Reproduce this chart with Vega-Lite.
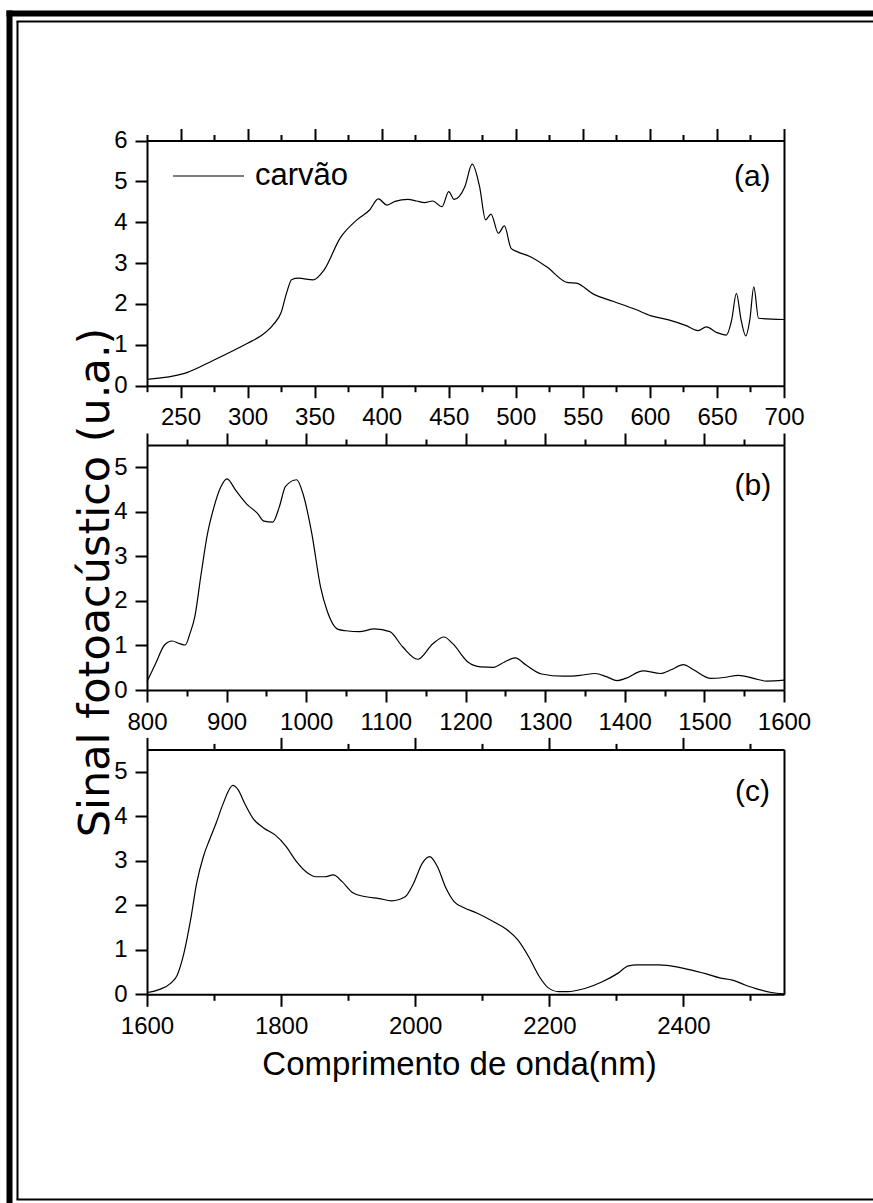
{
  "$schema": "https://vega.github.io/schema/vega-lite/v6.json",
  "width": 873,
  "height": 1203,
  "autosize": {"type": "none"},
  "padding": 0,
  "background": "white",
  "config": {
    "view": {"stroke": null},
    "axis": {
      "domainColor": "black", "tickColor": "black", "labelColor": "black", "titleColor": "black",
      "labelFont": "Liberation Sans", "titleFont": "Liberation Sans", "labelFontSize": 24,
      "titleFontWeight": "normal", "domainWidth": 2, "tickWidth": 2, "grid": false,
      "labelPadding": 8, "labelOverlap": false, "labelBound": false, "labelFlush": false
    },
    "legend": {"labelColor": "black", "labelFont": "Liberation Sans"}
  },
  "datasets": {
    "a": [
      {"nm": 225, "sinal": 0.155}, {"nm": 253, "sinal": 0.30}, {"nm": 275, "sinal": 0.63}, {"nm": 300, "sinal": 1.04},
      {"nm": 310, "sinal": 1.22}, {"nm": 319, "sinal": 1.49}, {"nm": 325, "sinal": 1.79}, {"nm": 329, "sinal": 2.26},
      {"nm": 333, "sinal": 2.60}, {"nm": 338, "sinal": 2.63}, {"nm": 349, "sinal": 2.59}, {"nm": 357, "sinal": 2.83},
      {"nm": 369, "sinal": 3.61}, {"nm": 382, "sinal": 4.07}, {"nm": 391, "sinal": 4.30}, {"nm": 397.5, "sinal": 4.57},
      {"nm": 404, "sinal": 4.42}, {"nm": 410, "sinal": 4.51}, {"nm": 419.5, "sinal": 4.56}, {"nm": 426, "sinal": 4.52},
      {"nm": 432, "sinal": 4.48}, {"nm": 438, "sinal": 4.52}, {"nm": 445, "sinal": 4.38}, {"nm": 450, "sinal": 4.75},
      {"nm": 454, "sinal": 4.56}, {"nm": 462, "sinal": 4.87}, {"nm": 467.5, "sinal": 5.42}, {"nm": 473, "sinal": 4.87},
      {"nm": 477.5, "sinal": 4.06}, {"nm": 481.5, "sinal": 4.20}, {"nm": 487, "sinal": 3.73}, {"nm": 491.5, "sinal": 3.91},
      {"nm": 496.5, "sinal": 3.36}, {"nm": 501, "sinal": 3.28}, {"nm": 510.5, "sinal": 3.16}, {"nm": 523, "sinal": 2.91},
      {"nm": 539, "sinal": 2.52}, {"nm": 545, "sinal": 2.51}, {"nm": 558, "sinal": 2.24}, {"nm": 573, "sinal": 2.06},
      {"nm": 589, "sinal": 1.87}, {"nm": 601, "sinal": 1.71}, {"nm": 614, "sinal": 1.61}, {"nm": 627, "sinal": 1.47},
      {"nm": 636, "sinal": 1.35}, {"nm": 642, "sinal": 1.44}, {"nm": 650, "sinal": 1.30}, {"nm": 657, "sinal": 1.24},
      {"nm": 661, "sinal": 1.61}, {"nm": 664.5, "sinal": 2.26}, {"nm": 668, "sinal": 1.61}, {"nm": 671.5, "sinal": 1.22},
      {"nm": 674.5, "sinal": 1.61}, {"nm": 677.5, "sinal": 2.42}, {"nm": 681, "sinal": 1.65}, {"nm": 700, "sinal": 1.62}
    ],
    "b": [
      {"nm": 800, "sinal": 0.19}, {"nm": 811, "sinal": 0.60}, {"nm": 822, "sinal": 1.01}, {"nm": 831.5, "sinal": 1.10},
      {"nm": 841, "sinal": 1.04}, {"nm": 848, "sinal": 1.01}, {"nm": 854, "sinal": 1.27}, {"nm": 860, "sinal": 1.64},
      {"nm": 868, "sinal": 2.61}, {"nm": 876, "sinal": 3.51}, {"nm": 884, "sinal": 4.10}, {"nm": 892.5, "sinal": 4.55},
      {"nm": 900.5, "sinal": 4.74}, {"nm": 911.5, "sinal": 4.48}, {"nm": 925, "sinal": 4.18}, {"nm": 939, "sinal": 3.96},
      {"nm": 947, "sinal": 3.79}, {"nm": 958, "sinal": 3.77}, {"nm": 966, "sinal": 4.10}, {"nm": 974, "sinal": 4.57},
      {"nm": 988, "sinal": 4.72}, {"nm": 996, "sinal": 4.40}, {"nm": 1007, "sinal": 3.51}, {"nm": 1018, "sinal": 2.31},
      {"nm": 1026, "sinal": 1.79}, {"nm": 1040, "sinal": 1.36}, {"nm": 1050, "sinal": 1.33}, {"nm": 1066.5, "sinal": 1.31},
      {"nm": 1085.5, "sinal": 1.37}, {"nm": 1105, "sinal": 1.31}, {"nm": 1121, "sinal": 0.97}, {"nm": 1140, "sinal": 0.69},
      {"nm": 1159, "sinal": 1.04}, {"nm": 1173, "sinal": 1.19}, {"nm": 1184, "sinal": 1.04}, {"nm": 1203, "sinal": 0.63},
      {"nm": 1219, "sinal": 0.52}, {"nm": 1235, "sinal": 0.51}, {"nm": 1249, "sinal": 0.63}, {"nm": 1262.5, "sinal": 0.72},
      {"nm": 1276, "sinal": 0.56}, {"nm": 1295.5, "sinal": 0.36}, {"nm": 1322.5, "sinal": 0.31}, {"nm": 1344, "sinal": 0.33},
      {"nm": 1363, "sinal": 0.37}, {"nm": 1377, "sinal": 0.30}, {"nm": 1390.5, "sinal": 0.21}, {"nm": 1401, "sinal": 0.26},
      {"nm": 1423, "sinal": 0.43}, {"nm": 1445, "sinal": 0.37}, {"nm": 1459, "sinal": 0.46}, {"nm": 1473.5, "sinal": 0.57},
      {"nm": 1486, "sinal": 0.46}, {"nm": 1508, "sinal": 0.26}, {"nm": 1524, "sinal": 0.28}, {"nm": 1543, "sinal": 0.33},
      {"nm": 1562, "sinal": 0.26}, {"nm": 1578, "sinal": 0.20}, {"nm": 1600, "sinal": 0.22}
    ],
    "c": [
      {"nm": 1600, "sinal": 0.04}, {"nm": 1619, "sinal": 0.11}, {"nm": 1635.5, "sinal": 0.25}, {"nm": 1645, "sinal": 0.43},
      {"nm": 1655, "sinal": 0.92}, {"nm": 1665, "sinal": 1.67}, {"nm": 1674, "sinal": 2.49}, {"nm": 1684, "sinal": 3.09},
      {"nm": 1694, "sinal": 3.50}, {"nm": 1703, "sinal": 3.84}, {"nm": 1713, "sinal": 4.26}, {"nm": 1728, "sinal": 4.69},
      {"nm": 1736, "sinal": 4.59}, {"nm": 1745.5, "sinal": 4.29}, {"nm": 1758, "sinal": 3.95}, {"nm": 1774.5, "sinal": 3.73},
      {"nm": 1791, "sinal": 3.58}, {"nm": 1807, "sinal": 3.33}, {"nm": 1823, "sinal": 2.98}, {"nm": 1839, "sinal": 2.73},
      {"nm": 1852, "sinal": 2.64}, {"nm": 1865, "sinal": 2.64}, {"nm": 1878, "sinal": 2.68}, {"nm": 1891, "sinal": 2.53},
      {"nm": 1907, "sinal": 2.28}, {"nm": 1926.5, "sinal": 2.19}, {"nm": 1946, "sinal": 2.15}, {"nm": 1965, "sinal": 2.10},
      {"nm": 1985, "sinal": 2.19}, {"nm": 1997.5, "sinal": 2.49}, {"nm": 2010.5, "sinal": 2.94}, {"nm": 2021.5, "sinal": 3.09},
      {"nm": 2033, "sinal": 2.87}, {"nm": 2046, "sinal": 2.38}, {"nm": 2058, "sinal": 2.08}, {"nm": 2072, "sinal": 1.95},
      {"nm": 2091, "sinal": 1.83}, {"nm": 2117, "sinal": 1.63}, {"nm": 2136, "sinal": 1.46}, {"nm": 2153, "sinal": 1.22},
      {"nm": 2169, "sinal": 0.85}, {"nm": 2185, "sinal": 0.40}, {"nm": 2198, "sinal": 0.15}, {"nm": 2214, "sinal": 0.06},
      {"nm": 2227, "sinal": 0.06}, {"nm": 2253, "sinal": 0.13}, {"nm": 2279, "sinal": 0.28}, {"nm": 2302, "sinal": 0.47},
      {"nm": 2318, "sinal": 0.64}, {"nm": 2331, "sinal": 0.66}, {"nm": 2363, "sinal": 0.66}, {"nm": 2392, "sinal": 0.61},
      {"nm": 2415, "sinal": 0.53}, {"nm": 2434, "sinal": 0.46}, {"nm": 2454, "sinal": 0.37}, {"nm": 2473, "sinal": 0.32},
      {"nm": 2492, "sinal": 0.21}, {"nm": 2512, "sinal": 0.11}, {"nm": 2531, "sinal": 0.04}, {"nm": 2550, "sinal": 0.01}
    ],
    "rotulos": [
      {"painel": "a", "nm": 690, "sinal": 5.11, "rotulo": "(a)"},
      {"painel": "b", "nm": 1584, "sinal": 4.58, "rotulo": "(b)"},
      {"painel": "c", "nm": 2529, "sinal": 4.55, "rotulo": "(c)"}
    ]
  },
  "layer": [
    {
      "data": {"values": []},
      "mark": {"type": "point", "opacity": 0},
      "encoding": {
        "x": {"field": "f", "type": "quantitative", "scale": {"domain": [0, 1], "range": [16, 1100], "nice": false, "zero": false},
              "axis": {"orient": "bottom", "offset": -4, "ticks": false, "labels": false, "title": null, "domainWidth": 2}},
        "y": {"field": "g", "type": "quantitative", "scale": {"domain": [0, 1], "range": [1199, 21], "nice": false, "zero": false},
              "axis": {"orient": "left", "offset": -17, "ticks": false, "labels": false, "title": null, "domainWidth": 2}}
      }
    },
    {
      "data": {"values": []},
      "mark": {"type": "point", "opacity": 0},
      "encoding": {
        "x": {"field": "f", "type": "quantitative", "scale": {"domain": [0, 1], "range": [16, 1100], "nice": false, "zero": false},
              "axis": {"orient": "top", "offset": -21, "ticks": false, "labels": false, "title": null, "domainWidth": 2}},
        "y": {"field": "g", "type": "quantitative", "scale": {"domain": [0, 1], "range": [1300, 10], "nice": false, "zero": false},
              "axis": {"orient": "left", "offset": -9, "ticks": false, "labels": false, "title": null, "domainWidth": 6}}
      }
    },
    {
      "data": {"values": []},
      "mark": {"type": "point", "opacity": 0},
      "encoding": {
        "x": {"field": "f", "type": "quantitative", "scale": {"domain": [0, 1], "range": [6, 1100], "nice": false, "zero": false},
              "axis": {"orient": "top", "offset": -13, "ticks": false, "labels": false, "title": null, "domainWidth": 6}}
      }
    },
    {
      "data": {"name": "a"},
      "mark": {"type": "line", "strokeWidth": 1.2, "interpolate": "monotone"},
      "encoding": {
        "x": {"field": "nm", "type": "quantitative", "scale": {"domain": [225, 700], "range": [147, 784], "nice": false, "zero": false},
              "axis": {"orient": "bottom", "offset": -817.3, "title": null, "format": "d",
                       "values": [225, 250, 275, 300, 325, 350, 375, 400, 425, 450, 475, 500, 525, 550, 575, 600, 625, 650, 675, 700],
                       "labelExpr": "datum.value % 50 === 0 ? datum.label : ''",
                       "tickSize": {"condition": {"test": "datum.value % 50 === 0", "value": 12}, "value": 6}}},
        "y": {"field": "sinal", "type": "quantitative", "scale": {"domain": [0, 6], "range": [385.7, 140.5], "nice": false, "zero": false},
              "axis": {"orient": "left", "offset": -147, "title": null, "format": "d",
                       "values": [0, 0.5, 1, 1.5, 2, 2.5, 3, 3.5, 4, 4.5, 5, 5.5, 6],
                       "labelExpr": "datum.value % 1 === 0 ? datum.label : ''",
                       "tickSize": {"condition": {"test": "datum.value % 1 === 0", "value": 12}, "value": 6}}},
        "stroke": {"datum": "carvão", "type": "nominal", "scale": {"range": ["black"]},
                   "legend": {"orient": "none", "legendX": 172, "legendY": 139.5, "title": null, "padding": 0,
                              "symbolType": "stroke", "symbolSize": 5041, "symbolStrokeWidth": 1.2, "symbolStrokeColor": "black",
                              "labelFontSize": 31, "labelOffset": 10}}
      }
    },
    {
      "data": {"values": []},
      "mark": {"type": "point", "opacity": 0},
      "encoding": {
        "x": {"field": "nm", "type": "quantitative", "scale": {"domain": [225, 700], "range": [147, 784], "nice": false, "zero": false},
              "axis": {"orient": "top", "offset": -140.5, "title": null, "labels": false,
                       "values": [225, 250, 275, 300, 325, 350, 375, 400, 425, 450, 475, 500, 525, 550, 575, 600, 625, 650, 675, 700],
                       "tickSize": {"condition": {"test": "datum.value % 50 === 0", "value": 12}, "value": 6}}},
        "y": {"field": "sinal", "type": "quantitative", "scale": {"domain": [0, 6], "range": [385.7, 140.5], "nice": false, "zero": false},
              "axis": {"orient": "right", "offset": -89, "title": null, "labels": false, "ticks": false}}
      }
    },
    {
      "data": {"name": "rotulos"},
      "transform": [{"filter": "datum.painel === 'a'"}],
      "mark": {"type": "text", "fontSize": 30, "font": "Liberation Sans", "align": "right", "baseline": "middle", "color": "black"},
      "encoding": {
        "x": {"field": "nm", "type": "quantitative", "scale": {"domain": [225, 700], "range": [147, 784], "nice": false, "zero": false}, "axis": null},
        "y": {"field": "sinal", "type": "quantitative", "scale": {"domain": [0, 6], "range": [385.7, 140.5], "nice": false, "zero": false}, "axis": null},
        "text": {"field": "rotulo"}
      }
    },
    {
      "data": {"name": "b"},
      "mark": {"type": "line", "strokeWidth": 1.2, "interpolate": "monotone", "color": "black"},
      "encoding": {
        "x": {"field": "nm", "type": "quantitative", "scale": {"domain": [800, 1600], "range": [147, 784], "nice": false, "zero": false},
              "axis": {"orient": "bottom", "offset": -513, "title": null, "format": "d",
                       "values": [800, 850, 900, 950, 1000, 1050, 1100, 1150, 1200, 1250, 1300, 1350, 1400, 1450, 1500, 1550, 1600],
                       "labelExpr": "datum.value % 100 === 0 ? datum.label : ''",
                       "tickSize": {"condition": {"test": "datum.value % 100 === 0", "value": 12}, "value": 6}}},
        "y": {"field": "sinal", "type": "quantitative", "scale": {"domain": [0, 5.5], "range": [690, 445], "nice": false, "zero": false},
              "axis": {"orient": "left", "offset": -147, "format": "d",
                       "values": [0, 0.5, 1, 1.5, 2, 2.5, 3, 3.5, 4, 4.5, 5, 5.5],
                       "labelExpr": "datum.value % 1 === 0 ? datum.label : ''",
                       "tickSize": {"condition": {"test": "datum.value % 1 === 0", "value": 12}, "value": 6},
                       "title": "Sinal fotoacústico (u.a.)", "titleFont": "DejaVu Sans", "titleFontSize": 43, "titleX": -52, "titleY": 582,
                       "titleBaseline": "middle", "titleAlign": "center", "titleAngle": -90}}
      }
    },
    {
      "data": {"values": []},
      "mark": {"type": "point", "opacity": 0},
      "encoding": {
        "x": {"field": "nm", "type": "quantitative", "scale": {"domain": [800, 1600], "range": [147, 784], "nice": false, "zero": false},
              "axis": {"orient": "top", "offset": -445, "title": null, "labels": false,
                       "values": [800, 850, 900, 950, 1000, 1050, 1100, 1150, 1200, 1250, 1300, 1350, 1400, 1450, 1500, 1550, 1600],
                       "tickSize": {"condition": {"test": "datum.value % 100 === 0", "value": 12}, "value": 6}}},
        "y": {"field": "sinal", "type": "quantitative", "scale": {"domain": [0, 5.5], "range": [690, 445], "nice": false, "zero": false},
              "axis": {"orient": "right", "offset": -89, "title": null, "labels": false, "ticks": false}}
      }
    },
    {
      "data": {"name": "rotulos"},
      "transform": [{"filter": "datum.painel === 'b'"}],
      "mark": {"type": "text", "fontSize": 30, "font": "Liberation Sans", "align": "right", "baseline": "middle", "color": "black"},
      "encoding": {
        "x": {"field": "nm", "type": "quantitative", "scale": {"domain": [800, 1600], "range": [147, 784], "nice": false, "zero": false}, "axis": null},
        "y": {"field": "sinal", "type": "quantitative", "scale": {"domain": [0, 5.5], "range": [690, 445], "nice": false, "zero": false}, "axis": null},
        "text": {"field": "rotulo"}
      }
    },
    {
      "data": {"name": "c"},
      "mark": {"type": "line", "strokeWidth": 1.2, "interpolate": "monotone", "color": "black"},
      "encoding": {
        "x": {"field": "nm", "type": "quantitative", "scale": {"domain": [1600, 2550], "range": [147, 784], "nice": false, "zero": false},
              "axis": {"orient": "bottom", "offset": -208.7, "format": "d",
                       "values": [1600, 1700, 1800, 1900, 2000, 2100, 2200, 2300, 2400, 2500],
                       "labelExpr": "datum.value % 200 === 0 ? datum.label : ''",
                       "tickSize": {"condition": {"test": "datum.value % 200 === 0", "value": 12}, "value": 6},
                       "title": "Comprimento de onda(nm)", "titleFontSize": 33, "titleX": 459, "titleY": 70,
                       "titleBaseline": "middle", "titleAlign": "center"}},
        "y": {"field": "sinal", "type": "quantitative", "scale": {"domain": [0, 5.5], "range": [994.3, 749.4], "nice": false, "zero": false},
              "axis": {"orient": "left", "offset": -147, "title": null, "format": "d",
                       "values": [0, 0.5, 1, 1.5, 2, 2.5, 3, 3.5, 4, 4.5, 5, 5.5],
                       "labelExpr": "datum.value % 1 === 0 ? datum.label : ''",
                       "tickSize": {"condition": {"test": "datum.value % 1 === 0", "value": 12}, "value": 6}}}
      }
    },
    {
      "data": {"values": []},
      "mark": {"type": "point", "opacity": 0},
      "encoding": {
        "x": {"field": "nm", "type": "quantitative", "scale": {"domain": [1600, 2550], "range": [147, 784], "nice": false, "zero": false},
              "axis": {"orient": "top", "offset": -749.4, "title": null, "labels": false,
                       "values": [1600, 1700, 1800, 1900, 2000, 2100, 2200, 2300, 2400, 2500],
                       "tickSize": {"condition": {"test": "datum.value % 200 === 0", "value": 12}, "value": 6}}},
        "y": {"field": "sinal", "type": "quantitative", "scale": {"domain": [0, 5.5], "range": [994.3, 749.4], "nice": false, "zero": false},
              "axis": {"orient": "right", "offset": -89, "title": null, "labels": false, "ticks": false}}
      }
    },
    {
      "data": {"name": "rotulos"},
      "transform": [{"filter": "datum.painel === 'c'"}],
      "mark": {"type": "text", "fontSize": 30, "font": "Liberation Sans", "align": "right", "baseline": "middle", "color": "black"},
      "encoding": {
        "x": {"field": "nm", "type": "quantitative", "scale": {"domain": [1600, 2550], "range": [147, 784], "nice": false, "zero": false}, "axis": null},
        "y": {"field": "sinal", "type": "quantitative", "scale": {"domain": [0, 5.5], "range": [994.3, 749.4], "nice": false, "zero": false}, "axis": null},
        "text": {"field": "rotulo"}
      }
    }
  ],
  "resolve": {
    "scale": {"x": "independent", "y": "independent", "stroke": "independent"},
    "axis": {"x": "independent", "y": "independent"}
  }
}
